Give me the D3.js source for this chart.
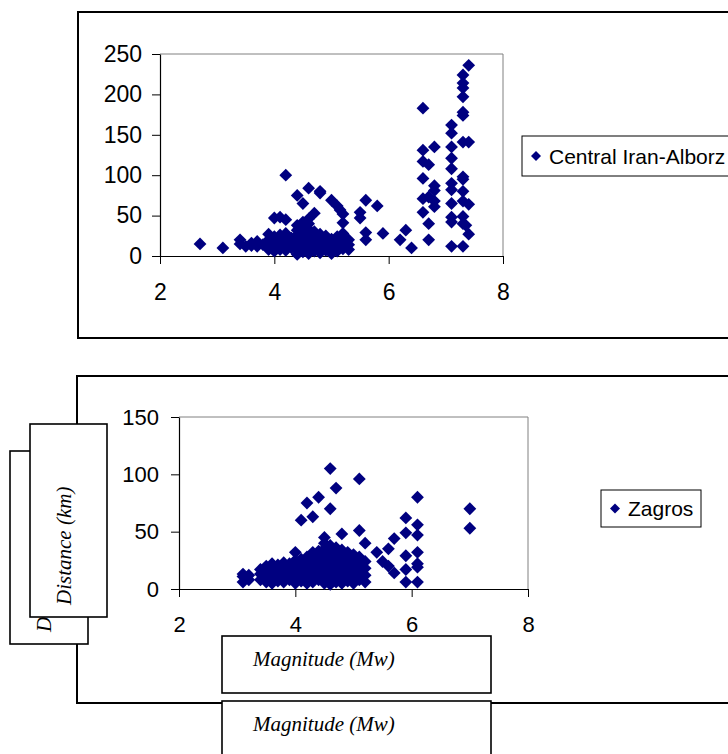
<!DOCTYPE html>
<html>
<head>
<meta charset="utf-8">
<script src="https://cdn.jsdelivr.net/npm/d3@7"></script>
<style>
  html, body { margin: 0; padding: 0; background: #fff; }
  svg { display: block; }
</style>
</head>
<body>
<svg id="chart" width="728" height="754"></svg>
<script>
// ---------------- DATA ----------------
const xTicks = [2, 4, 6, 8];
const yTicksTop = [0, 50, 100, 150, 200, 250];
const yTicksBottom = [0, 50, 100, 150];
const seriesTop = "Central Iran-Alborz";
const seriesBottom = "Zagros";
const xTitle = "Magnitude (Mw)";
const yTitle = "Distance (km)";

// Central Iran-Alborz: [magnitude, distance]
const centralIran = [
  [2.7,15],[3.1,10],[3.4,20],[3.4,15],[3.5,12],[3.6,13],[3.6,16],[3.7,12],[3.7,18],[3.8,14],
  [3.9,8],[3.9,14],[3.9,20],[3.9,27],[4.0,6],[4.0,12],[4.0,18],[4.0,24],[4.0,47],[4.1,48],
  [4.1,8],[4.1,15],[4.1,21],[4.1,26],[4.2,45],[4.2,100],[4.2,7],[4.2,12],[4.2,18],[4.2,23],[4.2,28],
  [4.3,10],[4.3,16],[4.3,22],[4.4,2],[4.4,8],[4.4,14],[4.4,20],[4.4,26],[4.4,32],[4.4,38],[4.4,75],
  [4.5,5],[4.5,11],[4.5,17],[4.5,23],[4.5,29],[4.5,35],[4.5,42],[4.5,65],
  [4.6,3],[4.6,9],[4.6,15],[4.6,21],[4.6,27],[4.6,33],[4.6,40],[4.6,46],[4.6,84],
  [4.7,6],[4.7,12],[4.7,18],[4.7,24],[4.7,30],[4.7,53],[4.8,4],[4.8,10],[4.8,16],[4.8,22],[4.8,27],[4.8,80],[4.8,78],
  [4.9,7],[4.9,13],[4.9,19],[4.9,25],[5.0,3],[5.0,9],[5.0,15],[5.0,21],[5.0,69],
  [5.1,6],[5.1,12],[5.1,18],[5.1,24],[5.1,62],[5.15,57],[5.2,9],[5.2,15],[5.2,22],[5.2,28],[5.2,52],[5.2,41],
  [5.3,8],[5.3,14],[5.3,20],[5.5,54],[5.5,47],[5.6,69],[5.6,29],[5.6,20],[5.8,62],[5.9,28],
  [6.2,20],[6.3,32],[6.4,10],
  [6.6,183],[6.6,131],[6.6,117],[6.6,96],[6.6,71],[6.6,54],[6.7,113],[6.7,73],[6.7,40],[6.7,20],
  [6.8,135],[6.8,87],[6.8,81],[6.8,61],[6.8,68],
  [7.1,162],[7.1,152],[7.1,135],[7.1,121],[7.1,108],[7.1,90],[7.1,82],[7.1,65],[7.1,48],[7.1,42],[7.1,12],
  [7.3,224],[7.3,214],[7.3,208],[7.3,197],[7.3,178],[7.3,174],[7.3,141],[7.3,98],[7.3,95],[7.3,80],[7.3,68],[7.3,49],[7.3,40],[7.3,12],
  [7.4,236],[7.4,141],[7.4,64],[7.35,38],[7.4,27]
];

// Zagros: [magnitude, distance]
const zagros = [
  [3.1,6],[3.1,11],[3.1,13],[3.2,8],[3.2,12],
  [3.4,8],[3.4,13],[3.4,17],[3.5,6],[3.5,11],[3.5,16],[3.5,20],
  [3.6,5],[3.6,10],[3.6,15],[3.6,20],[3.6,22],[3.7,7],[3.7,12],[3.7,17],[3.7,21],
  [3.8,6],[3.8,11],[3.8,16],[3.8,20],[3.8,23],[3.9,8],[3.9,13],[3.9,18],[3.9,22],
  [4.0,5],[4.0,10],[4.0,15],[4.0,20],[4.0,25],[4.0,32],
  [4.1,7],[4.1,12],[4.1,17],[4.1,22],[4.1,26],[4.1,60],
  [4.2,5],[4.2,9],[4.2,14],[4.2,19],[4.2,24],[4.2,28],[4.2,75],
  [4.3,6],[4.3,11],[4.3,16],[4.3,21],[4.3,26],[4.3,32],[4.3,63],
  [4.4,8],[4.4,13],[4.4,18],[4.4,23],[4.4,28],[4.4,33],[4.4,80],
  [4.5,5],[4.5,10],[4.5,15],[4.5,20],[4.5,25],[4.5,30],[4.5,35],[4.5,40],[4.5,45],
  [4.6,4],[4.6,9],[4.6,14],[4.6,19],[4.6,24],[4.6,29],[4.6,34],[4.6,38],[4.6,70],[4.6,105],
  [4.7,6],[4.7,11],[4.7,16],[4.7,21],[4.7,26],[4.7,31],[4.7,36],[4.7,88],
  [4.8,5],[4.8,10],[4.8,15],[4.8,20],[4.8,25],[4.8,30],[4.8,34],[4.8,48],
  [4.9,7],[4.9,12],[4.9,17],[4.9,22],[4.9,27],[4.9,32],
  [5.0,5],[5.0,10],[5.0,15],[5.0,20],[5.0,25],[5.0,30],
  [5.1,8],[5.1,13],[5.1,18],[5.1,23],[5.1,28],[5.1,51],[5.1,96],
  [5.2,6],[5.2,12],[5.2,18],[5.2,24],[5.2,40],
  [5.4,32],[5.5,24],[5.6,35],[5.6,20],[5.7,44],[5.7,14],
  [5.9,62],[5.9,49],[5.9,29],[5.9,17],[5.9,6],
  [6.1,80],[6.1,56],[6.1,47],[6.1,32],[6.1,22],[6.1,19],[6.1,6],
  [7.0,70],[7.0,53]
];

// ---------------- DRAW ----------------
const svg = d3.select("#chart");
const navy = "#000080";
const sans = "Arial, 'Liberation Sans', sans-serif";
const serif = "'Times New Roman', 'Liberation Serif', serif";

function panel(cfg) {
  // outer chart frame
  svg.append("rect")
    .attr("x", cfg.frame[0]).attr("y", cfg.frame[1])
    .attr("width", cfg.frame[2]).attr("height", cfg.frame[3])
    .attr("fill", "#fff").attr("stroke", "#000").attr("stroke-width", 2);

  const x = d3.scaleLinear().domain([2, 8]).range([cfg.left, cfg.right]);
  const y = d3.scaleLinear().domain([0, cfg.ymax]).range([cfg.bottom, cfg.top]);

  // gray plot border (top & right)
  svg.append("path")
    .attr("d", `M${cfg.left},${cfg.top}H${cfg.right}V${cfg.bottom}`)
    .attr("fill", "none").attr("stroke", "#808080").attr("stroke-width", 1);

  const gx = svg.append("g").attr("transform", `translate(0,${cfg.bottom})`)
    .call(d3.axisBottom(x).tickValues(xTicks).tickFormat(d3.format("d"))
      .tickSize(8).tickSizeOuter(0).tickPadding(cfg.xpad));
  const gy = svg.append("g").attr("transform", `translate(${cfg.left},0)`)
    .call(d3.axisLeft(y).tickValues(cfg.yticks).tickFormat(d3.format("d"))
      .tickSize(8).tickSizeOuter(0).tickPadding(cfg.ypad));
  [gx, gy].forEach(g => {
    g.select(".domain").attr("stroke", "#000").attr("stroke-width", 1.2);
    g.selectAll(".tick line").attr("stroke", "#000").attr("stroke-width", 1);
    g.selectAll(".tick text").attr("fill", "#000")
      .style("font-family", sans).style("font-size", cfg.fs + "px");
  });

  // points
  svg.append("g").selectAll("path").data(cfg.data).join("path")
    .attr("transform", d => `translate(${x(d[0])},${y(d[1])}) rotate(45)`)
    .attr("d", d3.symbol().type(d3.symbolSquare).size(82))
    .attr("fill", navy);

  // legend
  const L = cfg.legend;
  svg.append("rect").attr("x", L.x).attr("y", L.y).attr("width", L.w).attr("height", L.h)
    .attr("fill", "#fff").attr("stroke", "#000").attr("stroke-width", 1);
  svg.append("path")
    .attr("transform", `translate(${L.x + 14},${L.y + L.h / 2}) rotate(45)`)
    .attr("d", d3.symbol().type(d3.symbolSquare).size(50))
    .attr("fill", navy);
  svg.append("text").attr("x", L.x + 27).attr("y", L.y + L.h / 2 + 7.5)
    .style("font-family", sans).style("font-size", "21px").attr("fill", "#000")
    .text(L.label);
}

panel({
  frame: [78, 12, 700, 326],
  left: 160, right: 503, top: 54, bottom: 256, ymax: 250,
  yticks: yTicksTop, fs: 23, xpad: 20, ypad: 10,
  data: centralIran,
  legend: { x: 522, y: 136, w: 230, h: 40, label: seriesTop }
});

panel({
  frame: [77, 376, 700, 327],
  left: 179, right: 528, top: 417, bottom: 589, ymax: 150,
  yticks: yTicksBottom, fs: 22, xpad: 19, ypad: 12,
  data: zagros,
  legend: { x: 601, y: 490, w: 100, h: 37, label: seriesBottom }
});

// axis title boxes (overlapping, as in the reference)
function titleBox(x0, y0, w, h) {
  svg.append("rect").attr("x", x0).attr("y", y0).attr("width", w).attr("height", h)
    .attr("fill", "#fff").attr("stroke", "#000").attr("stroke-width", 1.6);
}
function xTitleBox(x0, y0, w, h, base) {
  titleBox(x0, y0, w, h);
  svg.append("text").attr("x", x0 + 31).attr("y", base)
    .style("font-family", serif).style("font-style", "italic").style("font-size", "21px")
    .attr("fill", "#000").text(xTitle);
}
function yTitleBox(x0, y0, w, h) {
  titleBox(x0, y0, w, h);
  svg.append("text")
    .attr("transform", `translate(${x0 + 41},${y0 + h - 12}) rotate(-90)`)
    .style("font-family", serif).style("font-style", "italic").style("font-size", "21px")
    .attr("fill", "#000").text(yTitle);
}

xTitleBox(222, 636, 269, 57, 666);
xTitleBox(222, 701, 269, 80, 731);
yTitleBox(10, 451, 78, 193);
yTitleBox(30, 424, 77, 193);
</script>
</body>
</html>
